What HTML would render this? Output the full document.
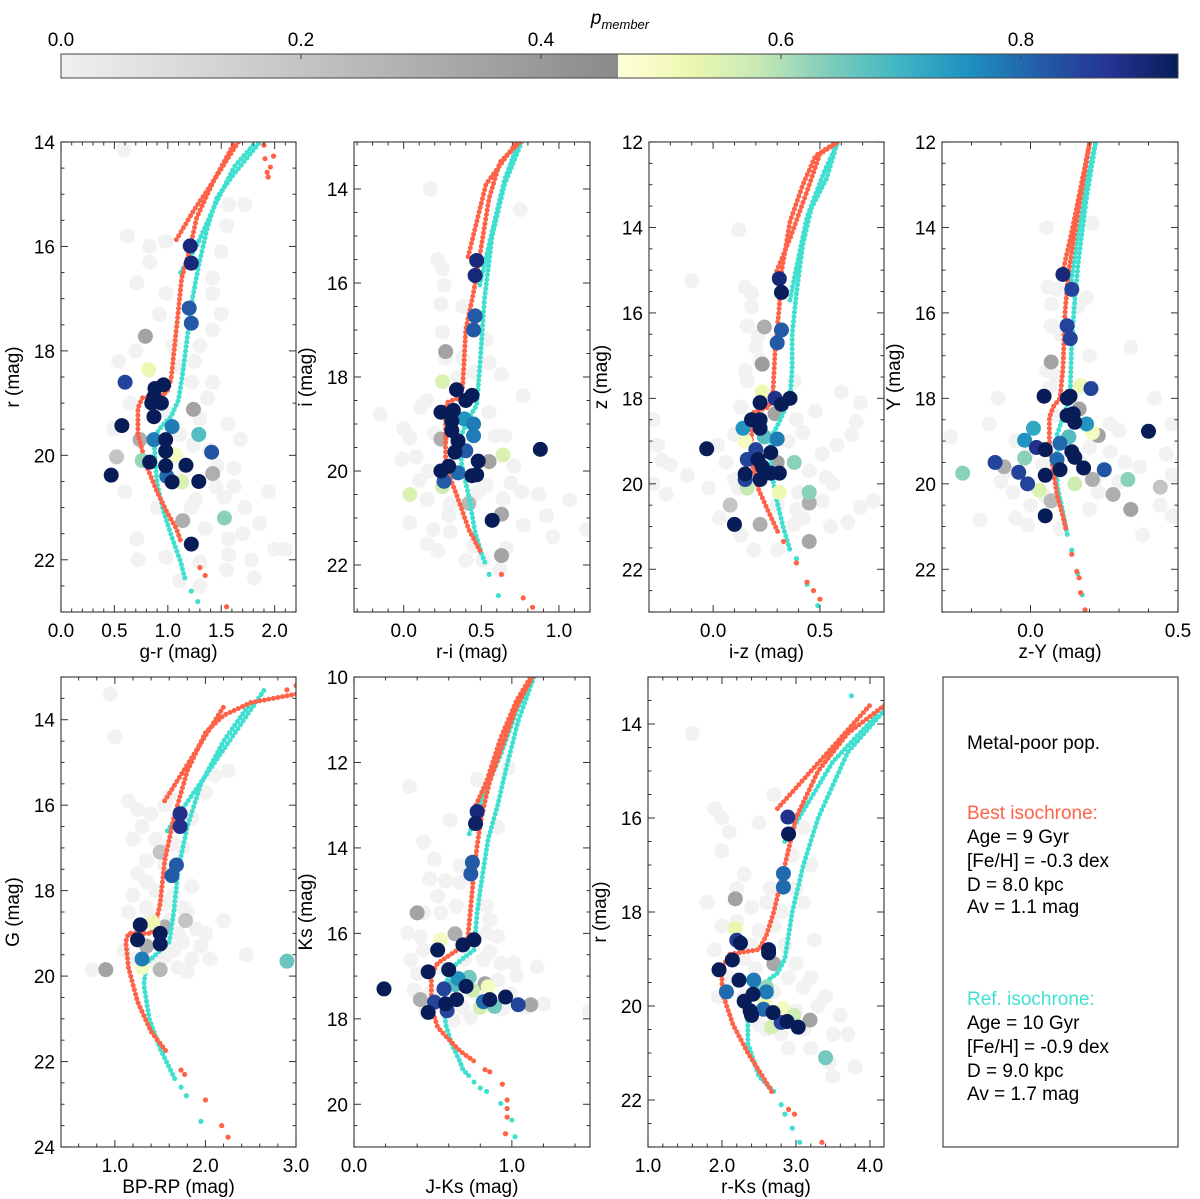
<!DOCTYPE html>
<html><head><meta charset="utf-8"><style>
html,body{margin:0;padding:0;background:#fff;}
svg{display:block;font-family:"Liberation Sans","DejaVu Sans",sans-serif;}
</style></head><body>
<svg id="fig" width="1200" height="1199" viewBox="0 0 1200 1199" xmlns="http://www.w3.org/2000/svg">
<defs>
<linearGradient id="gGray" x1="0" x2="1" y1="0" y2="0"><stop offset="0" stop-color="#f0f0f0"/><stop offset="1" stop-color="#8a8a8a"/></linearGradient>
<linearGradient id="gYl" x1="0" x2="1" y1="0" y2="0">
<stop offset="0" stop-color="#ffffd9"/><stop offset="0.125" stop-color="#edf8b1"/><stop offset="0.25" stop-color="#c7e9b4"/><stop offset="0.375" stop-color="#7fcdbb"/><stop offset="0.5" stop-color="#41b6c4"/><stop offset="0.625" stop-color="#1d91c0"/><stop offset="0.75" stop-color="#225ea8"/><stop offset="0.875" stop-color="#253494"/><stop offset="1" stop-color="#081d58"/></linearGradient>
</defs>
<g id="cbar">
<rect x="61" y="54" width="557" height="24" fill="url(#gGray)"/>
<rect x="618" y="54" width="560" height="24" fill="url(#gYl)"/>
<rect x="61" y="54" width="1117" height="24" fill="none" stroke="#444" stroke-width="1"/>
<text x="620" y="24" font-size="19" text-anchor="middle" font-style="italic">p<tspan font-size="13" dy="5">member</tspan></text>
</g>
<g id="panels"></g>
<g id="textbox">
<rect x="943" y="677" width="235" height="470" fill="none" stroke="#444" stroke-width="1.2"/>
<text x="967" y="749" font-size="19">Metal-poor pop.</text>
<text x="967" y="819" font-size="19" fill="#ff6347">Best isochrone:</text>
<text x="967" y="843" font-size="19">Age = 9 Gyr</text>
<text x="967" y="867" font-size="19">[Fe/H] = -0.3 dex</text>
<text x="967" y="891" font-size="19">D = 8.0 kpc</text>
<text x="967" y="913" font-size="19">Av = 1.1 mag</text>
<text x="967" y="1005" font-size="19" fill="#40e0d0">Ref. isochrone:</text>
<text x="967" y="1029" font-size="19">Age = 10 Gyr</text>
<text x="967" y="1053" font-size="19">[Fe/H] = -0.9 dex</text>
<text x="967" y="1077" font-size="19">D = 9.0 kpc</text>
<text x="967" y="1100" font-size="19">Av = 1.7 mag</text>
</g>
</svg>
<script>
const cbarTicks = [0.0, 0.2, 0.4, 0.6, 0.8];
// ---- Panel 1 (g-r, r)
const p1BestMain = [[1.66,14.0],[1.43,14.74],[1.27,15.45],[1.2,16.1],[1.13,16.6],[1.09,17.4],[1.06,17.97],[1.03,18.55],[0.99,18.8],[0.9,18.88],[0.76,18.9],[0.72,19.1],[0.72,19.6],[0.8,20.2],[0.9,20.7],[0.99,21.08],[1.08,21.4],[1.13,21.7]];
const p1BestUpper = [[1.08,15.87],[1.24,15.32],[1.43,14.74],[1.62,14.03]];
const p1BestTail = [[1.9,14.06],[1.91,14.32],[1.96,14.48],[1.93,14.58],[1.99,14.27],[1.94,14.67],[1.3,22.15],[1.35,22.3],[1.55,22.9]];
const p1RefMain = [[1.85,14.03],[1.62,14.61],[1.46,15.06],[1.37,15.64],[1.29,16.36],[1.23,17.0],[1.18,17.78],[1.14,18.42],[1.1,18.94],[1.03,19.26],[0.94,19.45],[0.87,19.65],[0.88,20.03],[0.9,20.55],[0.96,21.07],[1.03,21.52],[1.12,22.04],[1.16,22.36]];
const p1RefUpper = [[1.12,16.5],[1.27,15.99],[1.43,15.26],[1.62,14.48],[1.8,14.06]];
const p1RefTail = [[1.22,22.6],[1.28,22.8]];
const p1Bg = [[0.59,14.15],[0.62,15.8],[0.83,16.0],[0.98,15.9],[0.83,16.3],[0.71,16.7],[0.98,16.9],[0.92,17.3],[1.42,16.9],[1.57,15.2],[1.72,15.2],[1.55,15.6],[1.5,16.1],[1.42,16.6],[1.42,17.6],[1.3,17.9],[1.05,17.9],[0.7,18.0],[0.54,18.2],[1.11,18.3],[1.42,18.6],[1.22,18.6],[1.37,18.9],[1.56,19.4],[1.68,19.7],[1.11,19.6],[1.39,19.9],[1.46,20.2],[1.62,20.6],[1.53,20.8],[1.72,21.0],[1.94,20.7],[1.86,21.3],[1.26,20.85],[0.9,21.0],[0.71,21.6],[0.72,22.0],[0.98,21.95],[1.3,22.05],[1.57,21.9],[1.57,21.6],[1.78,22.0],[2.0,21.8],[2.1,21.8],[1.11,22.4],[1.81,22.35],[1.55,22.2],[1.3,22.5],[0.5,19.5],[0.6,20.7],[1.22,21.0],[1.62,20.25],[1.24,19.8],[1.15,20.3],[1.25,18.2],[1.3,19.3],[1.45,20.6],[1.35,21.4],[1.0,19.2],[0.65,19.0],[1.5,17.3],[1.2,17.2],[1.7,21.5]];
const p1Stars = [[1.21,15.99,0.9],[1.22,16.32,0.9],[1.2,17.18,0.82],[1.22,17.47,0.82],[0.79,17.72,0.35],[0.82,18.36,0.52],[0.6,18.6,0.85],[0.88,18.72,0.95],[0.96,18.65,0.95],[0.87,18.88,0.95],[0.94,19.0,0.95],[0.85,19.0,0.95],[0.87,19.26,0.95],[1.24,19.12,0.35],[0.57,19.43,0.95],[1.04,19.45,0.78],[1.29,19.6,0.68],[0.87,19.7,0.78],[0.98,19.7,0.95],[0.98,19.92,0.95],[1.07,19.99,0.5],[1.41,19.94,0.83],[0.74,19.7,0.3],[0.52,20.03,0.2],[0.76,20.1,0.62],[0.83,20.13,0.95],[0.98,20.2,0.95],[1.17,20.19,0.95],[0.47,20.38,0.95],[0.99,20.4,0.8],[1.04,20.51,0.95],[1.29,20.5,0.95],[1.13,20.51,0.55],[1.42,20.35,0.3],[1.14,21.25,0.3],[1.53,21.2,0.63],[1.22,21.7,0.95]];
// ---- Panel 2 (r-i, i)
const p2BestMain = [[0.75,13.0],[0.62,13.43],[0.55,14.2],[0.48,15.62],[0.45,16.2],[0.4,16.99],[0.38,18.2],[0.36,18.44],[0.28,18.54],[0.27,18.8],[0.27,19.9],[0.34,20.5],[0.42,21.25],[0.5,21.75]];
const p2BestUpper = [[0.415,15.44],[0.53,13.9],[0.73,13.0]];
const p2BestTail = [[0.63,22.2],[0.77,22.7],[0.83,22.9]];
const p2RefMain = [[0.76,13.0],[0.65,13.9],[0.57,15.0],[0.52,16.35],[0.49,17.8],[0.47,18.6],[0.415,18.9],[0.37,19.25],[0.37,19.8],[0.42,20.55],[0.46,21.3],[0.5,21.75],[0.53,22.0]];
const p2RefUpper = [[0.49,16.04],[0.57,14.9],[0.65,13.8],[0.74,13.0]];
const p2RefTail = [[0.55,22.2],[0.61,22.65]];
const p2Bg = [[0.17,14.0],[0.75,14.44],[0.22,15.5],[0.25,15.7],[0.26,16.05],[0.24,16.45],[0.38,16.5],[0.25,17.05],[0.53,17.2],[0.27,17.6],[0.38,17.6],[0.55,17.7],[0.63,17.95],[0.77,18.4],[0.15,18.5],[0.11,18.65],[-0.15,18.8],[0.0,19.1],[0.04,19.3],[-0.01,19.75],[0.08,19.7],[0.16,20.0],[0.55,18.75],[0.59,19.25],[0.65,19.25],[0.71,19.9],[0.69,20.25],[0.53,20.3],[0.64,20.6],[0.76,20.45],[0.87,20.5],[1.07,20.62],[0.15,20.6],[0.29,20.95],[0.04,21.1],[0.19,21.25],[0.3,21.3],[0.15,21.55],[0.22,21.7],[0.45,21.6],[0.66,21.65],[0.77,21.15],[0.92,20.95],[0.96,21.4],[1.18,21.25],[0.51,21.9],[0.62,22.1],[0.46,20.5],[0.49,20.4],[0.2,19.2],[0.35,18.0],[0.45,17.9],[0.3,20.7],[0.1,20.2],[0.4,21.9]];
const p2Stars = [[0.47,15.52,0.9],[0.46,15.84,0.9],[0.46,16.7,0.82],[0.45,17.0,0.82],[0.27,17.46,0.35],[0.25,18.1,0.55],[0.34,18.27,0.95],[0.44,18.39,0.95],[0.4,18.5,0.95],[0.24,18.75,0.95],[0.32,18.71,0.95],[0.31,18.94,0.95],[0.31,19.14,0.95],[0.39,18.89,0.75],[0.45,19.0,0.78],[0.45,19.25,0.78],[0.24,19.32,0.3],[0.35,19.36,0.95],[0.33,19.6,0.95],[0.4,19.57,0.82],[0.48,19.79,0.95],[0.55,19.8,0.35],[0.64,19.66,0.55],[0.88,19.54,0.95],[0.24,20.0,0.95],[0.29,19.9,0.95],[0.26,20.22,0.82],[0.35,20.04,0.8],[0.47,20.08,0.95],[0.44,20.1,0.95],[0.25,20.33,0.57],[0.04,20.5,0.55],[0.42,20.69,0.25],[0.57,21.05,0.95],[0.63,20.92,0.33],[0.63,21.8,0.35]];
// ---- Panel 3 (i-z, z)
const p3BestMain = [[0.58,12.0],[0.48,12.32],[0.42,13.0],[0.36,13.86],[0.32,15.05],[0.31,15.85],[0.29,16.9],[0.28,17.9],[0.26,18.2],[0.19,18.33],[0.18,18.85],[0.18,19.47],[0.21,20.1],[0.26,20.66],[0.31,21.2]];
const p3BestUpper = [[0.29,15.12],[0.36,14.26],[0.44,13.15],[0.5,12.28],[0.57,12.05]];
const p3BestTail = [[0.33,21.35],[0.39,21.85],[0.44,22.3],[0.47,22.5],[0.5,22.7]];
const p3RefMain = [[0.58,12.05],[0.53,12.87],[0.46,13.55],[0.42,14.4],[0.39,15.55],[0.37,16.5],[0.37,17.3],[0.36,18.0],[0.31,18.55],[0.27,18.93],[0.27,19.65],[0.3,20.43],[0.33,21.05],[0.36,21.55]];
const p3RefUpper = [[0.36,15.7],[0.39,14.94],[0.44,13.75],[0.52,12.7],[0.58,12.05]];
const p3RefTail = [[0.39,21.75],[0.44,22.35],[0.49,22.85]];
const p3Bg = [[0.12,14.05],[-0.1,15.25],[0.15,15.4],[0.18,15.55],[0.18,15.85],[0.16,16.3],[0.21,16.55],[0.2,16.8],[0.15,17.35],[0.16,17.6],[0.38,17.6],[0.6,17.85],[0.69,18.1],[0.48,18.3],[0.67,18.55],[0.39,18.5],[-0.28,18.5],[-0.26,19.1],[-0.24,19.45],[-0.2,19.55],[-0.12,19.8],[-0.28,20.0],[-0.22,20.25],[-0.02,20.1],[0.02,19.1],[0.06,19.5],[0.1,18.85],[0.42,18.8],[0.51,19.3],[0.58,19.1],[0.65,18.85],[0.53,19.85],[0.56,20.0],[0.51,20.4],[0.69,20.55],[0.75,20.4],[0.63,20.9],[0.55,21.0],[0.42,20.8],[0.39,20.6],[0.03,20.8],[0.13,21.2],[0.19,21.55],[0.3,21.55],[0.38,20.95],[0.12,20.1],[0.3,20.5],[0.1,19.9],[0.35,19.0],[0.4,20.2],[0.22,17.1],[0.13,18.2],[0.45,19.7]];
const p3Stars = [[0.31,15.2,0.9],[0.32,15.52,0.93],[0.32,16.4,0.82],[0.3,16.7,0.82],[0.24,16.33,0.3],[0.23,17.2,0.38],[0.23,17.85,0.52],[0.22,18.1,0.95],[0.29,18.0,0.88],[0.32,18.14,0.95],[0.36,18.0,0.95],[0.29,18.36,0.35],[0.18,18.5,0.95],[0.22,18.5,0.95],[0.22,18.7,0.95],[0.14,18.7,0.75],[0.24,18.9,0.68],[0.3,18.95,0.78],[0.15,19.0,0.5],[-0.03,19.18,0.95],[0.2,19.2,0.85],[0.27,19.27,0.95],[0.16,19.43,0.85],[0.21,19.43,0.95],[0.3,19.5,0.35],[0.38,19.5,0.63],[0.23,19.6,0.95],[0.27,19.75,0.95],[0.15,19.77,0.95],[0.15,19.9,0.85],[0.31,19.75,0.95],[0.22,19.9,0.93],[0.16,20.1,0.58],[0.31,20.2,0.52],[0.45,20.2,0.63],[0.45,20.45,0.3],[0.08,20.5,0.2],[0.1,20.95,0.95],[0.22,20.95,0.3],[0.45,21.35,0.33]];
// ---- Panel 4 (z-Y, Y)
const p4BestMain = [[0.2,12.04],[0.16,13.7],[0.128,15.1],[0.117,16.0],[0.11,17.3],[0.1,18.0],[0.077,18.2],[0.064,18.45],[0.064,19.0],[0.075,19.6],[0.09,20.26],[0.106,20.66],[0.12,21.05]];
const p4BestUpper = [[0.109,15.05],[0.14,14.1],[0.17,13.07],[0.2,12.04]];
const p4BestTail = [[0.14,21.65],[0.157,22.05],[0.165,22.2],[0.17,22.55],[0.185,22.95]];
const p4RefMain = [[0.22,12.04],[0.19,13.3],[0.163,14.75],[0.15,15.7],[0.14,16.65],[0.135,17.7],[0.135,18.0],[0.11,18.45],[0.09,18.85],[0.09,19.3],[0.09,20.03],[0.11,20.66],[0.125,21.2]];
const p4RefUpper = [[0.134,15.45],[0.163,14.1],[0.19,12.9],[0.22,12.04]];
const p4RefTail = [[0.14,21.55],[0.16,22.1],[0.175,22.6]];
const p4Bg = [[0.055,14.0],[0.21,13.9],[0.06,15.4],[0.09,15.45],[0.19,15.65],[0.07,15.8],[0.16,15.85],[0.07,16.3],[0.1,16.5],[0.34,16.8],[0.2,17.0],[0.055,17.35],[0.09,17.5],[0.065,17.75],[0.08,18.4],[-0.11,18.0],[-0.14,18.6],[-0.27,18.9],[-0.05,19.0],[-0.01,19.3],[0.04,19.55],[-0.1,19.95],[-0.06,20.2],[0.0,20.5],[-0.17,20.85],[-0.05,20.8],[-0.01,20.97],[0.1,21.05],[0.23,20.2],[0.27,19.25],[0.32,19.5],[0.3,19.95],[0.37,19.6],[0.3,18.75],[0.27,18.6],[0.42,18.0],[0.48,18.6],[0.46,19.3],[0.48,19.8],[0.44,20.5],[0.48,20.75],[0.38,21.2],[0.22,19.9],[0.2,19.15],[0.17,19.5],[-0.08,19.7],[0.05,20.3],[0.2,20.6],[0.15,17.8]];
const p4Stars = [[0.11,15.1,0.9],[0.14,15.45,0.85],[0.124,16.3,0.85],[0.135,16.6,0.85],[0.07,17.15,0.35],[0.17,17.7,0.52],[0.205,17.77,0.85],[0.046,17.95,0.95],[0.125,18.0,0.95],[0.134,17.95,0.95],[0.165,18.25,0.35],[0.124,18.4,0.95],[0.145,18.36,0.95],[0.15,18.56,0.95],[0.19,18.6,0.75],[0.01,18.7,0.72],[0.21,18.8,0.5],[0.23,18.87,0.35],[0.13,18.9,0.68],[0.4,18.77,0.95],[-0.02,18.98,0.75],[0.1,19.05,0.8],[0.02,19.15,0.88],[0.05,19.2,0.95],[0.14,19.25,0.95],[0.15,19.38,0.95],[-0.02,19.4,0.63],[-0.12,19.5,0.85],[-0.09,19.6,0.3],[0.09,19.43,0.8],[0.1,19.67,0.95],[0.18,19.63,0.95],[0.25,19.67,0.83],[-0.04,19.73,0.85],[0.05,19.8,0.95],[-0.23,19.75,0.63],[-0.01,20.0,0.85],[0.15,20.0,0.57],[0.21,19.9,0.3],[0.33,19.9,0.63],[0.03,20.15,0.55],[0.07,20.4,0.25],[0.28,20.25,0.3],[0.34,20.6,0.35],[0.44,20.08,0.2],[0.05,20.75,0.95]];
// ---- Panel 5 (BP-RP, G)
const p5BestMain = [[3.0,13.4],[2.5,13.6],[2.2,13.9],[2.0,14.3],[1.8,15.2],[1.65,16.3],[1.55,17.3],[1.5,18.3],[1.45,18.8],[1.4,19.0],[1.15,19.0],[1.12,19.2],[1.15,19.8],[1.25,20.6],[1.4,21.3],[1.58,21.8]];
const p5BestUpper = [[1.55,15.9],[2.2,13.7]];
const p5BestTail = [[1.73,22.2],[1.77,22.3],[2.0,22.9],[2.18,23.5],[2.25,23.77],[2.9,13.3],[3.0,13.2]];
const p5RefMain = [[2.5,13.6],[2.2,14.5],[1.95,15.5],[1.8,16.5],[1.7,17.5],[1.65,18.5],[1.6,19.2],[1.45,19.5],[1.35,19.7],[1.32,20.2],[1.38,21],[1.5,21.7],[1.66,22.4]];
const p5RefUpper = [[1.58,16.6],[2.2,14.7],[2.65,13.3]];
const p5RefTail = [[1.73,22.6],[1.79,22.8],[1.95,23.4]];
const p5Bg = [[0.95,13.4],[1.0,14.4],[2.25,15.2],[2.1,15.3],[2.0,15.7],[1.6,15.8],[1.15,15.9],[1.25,16.1],[1.3,16.5],[1.85,16.3],[1.75,17.0],[1.2,16.8],[1.35,17.3],[1.55,17.4],[1.35,17.8],[1.45,18.0],[1.2,18.1],[1.65,18.1],[1.8,18.5],[1.35,18.4],[2.2,18.7],[1.7,19.0],[1.1,19.4],[1.6,19.3],[1.85,19.6],[2.05,19.6],[2.45,19.5],[0.75,19.85],[1.7,19.8],[1.8,19.9],[1.55,19.55],[1.4,16.2],[1.55,16.0],[1.45,16.8],[1.65,16.9],[1.25,17.6],[1.55,18.3],[1.4,18.6],[1.75,18.4],[1.9,18.9],[1.6,18.7],[1.25,19.0],[1.45,19.7],[1.65,19.4],[1.2,19.6],[1.95,19.3],[1.75,19.2],[2.0,19.0],[1.15,18.5],[1.55,17.0],[1.85,17.9]];
const p5Stars = [[1.28,18.8,0.95],[1.25,19.15,0.95],[1.5,19.0,0.95],[1.5,19.25,0.95],[1.72,16.2,0.88],[1.72,16.5,0.88],[1.68,17.4,0.82],[1.63,17.65,0.82],[1.3,19.6,0.78],[2.9,19.65,0.66],[1.42,18.75,0.52],[1.3,19.8,0.5],[0.9,19.85,0.35],[1.35,19.3,0.3],[1.5,19.85,0.25],[1.55,18.85,0.3],[1.78,18.7,0.2],[1.5,17.1,0.2]];
// ---- Panel 6 (J-Ks, Ks)
const p6BestMain = [[1.13,10],[1.03,10.7],[0.95,11.5],[0.86,12.44],[0.81,13.23],[0.78,13.94],[0.76,14.57],[0.74,15.36],[0.72,16.15],[0.69,16.3],[0.61,16.5],[0.53,16.7],[0.49,16.94],[0.49,17.73],[0.53,18.2],[0.59,18.44],[0.67,18.75],[0.76,18.99]];
const p6BestUpper = [[0.75,13.19],[0.84,12.44],[0.93,11.42],[1.03,10.55],[1.12,10.0]];
const p6BestTail = [[0.83,19.19],[0.86,19.24],[0.94,19.53],[0.97,19.9],[0.97,20.1],[0.97,20.3],[0.96,20.69]];
const p6RefMain = [[1.14,10],[1.04,11.03],[0.97,12.05],[0.91,13.0],[0.85,13.79],[0.81,14.73],[0.78,15.52],[0.76,16.39],[0.69,16.59],[0.63,16.78],[0.59,17.1],[0.57,17.57],[0.58,18.12],[0.62,18.6],[0.67,18.99],[0.69,19.19],[0.74,19.38]];
const p6RefUpper = [[0.73,13.67],[0.82,12.76],[0.93,11.81],[1.03,10.79],[1.13,10.0]];
const p6RefTail = [[0.76,19.48],[0.8,19.62],[0.84,19.7],[0.93,19.98],[1.0,20.37],[1.02,20.76]];
const p6Bg = [[0.35,12.56],[0.78,12.4],[0.98,12.13],[0.61,13.35],[0.91,13.51],[0.44,13.86],[0.51,14.26],[0.67,14.42],[0.48,14.73],[0.58,14.77],[0.67,14.81],[0.53,15.13],[0.44,15.52],[0.55,15.52],[0.65,15.36],[0.84,15.36],[0.86,15.68],[0.34,15.99],[0.42,16.07],[0.84,15.99],[0.91,16.07],[0.44,16.39],[0.86,16.43],[0.36,16.62],[0.82,16.62],[0.93,16.7],[1.01,16.7],[0.4,16.94],[0.91,17.1],[1.03,16.98],[1.16,16.78],[0.38,17.33],[0.48,17.41],[0.99,17.41],[1.2,17.65],[0.69,17.73],[0.63,18.04],[0.74,17.97],[1.49,17.81],[1.09,17.73],[0.94,17.77],[0.55,16.8],[0.7,16.6],[0.6,17.9],[0.8,17.5],[0.45,17.8]];
const p6Stars = [[0.78,13.15,0.9],[0.77,13.43,0.92],[0.75,14.34,0.82],[0.74,14.61,0.82],[0.4,15.52,0.35],[0.64,16.01,0.3],[0.55,16.15,0.5],[0.76,16.15,0.95],[0.69,16.27,0.95],[0.53,16.39,0.95],[0.47,16.9,0.95],[0.6,16.85,0.95],[0.66,17.06,0.75],[0.73,17.03,0.65],[0.64,17.2,0.68],[0.71,17.24,0.95],[0.83,17.18,0.35],[0.85,17.25,0.5],[0.75,17.33,0.57],[0.57,17.3,0.85],[0.19,17.3,0.95],[0.42,17.55,0.3],[0.65,17.55,0.95],[0.86,17.55,0.95],[0.82,17.6,0.8],[0.96,17.49,0.95],[0.89,17.71,0.65],[0.8,17.73,0.56],[1.04,17.67,0.85],[1.12,17.67,0.33],[0.51,17.61,0.85],[0.58,17.65,0.95],[0.59,17.81,0.85],[0.47,17.85,0.95]];
// ---- Panel 7 (r-Ks, r)
const p7BestMain = [[4.2,13.6],[3.7,14.2],[3.3,15],[3.0,16],[2.85,17],[2.7,18],[2.6,18.5],[2.5,18.8],[2.1,18.9],[2.0,19.2],[2.0,19.7],[2.15,20.4],[2.35,21],[2.55,21.5],[2.7,21.9]];
const p7BestUpper = [[2.75,15.8],[4.0,13.6]];
const p7BestTail = [[2.9,22.2],[2.98,22.3],[3.35,22.9]];
const p7RefMain = [[4.2,13.7],[3.7,14.6],[3.3,16],[3.1,17],[2.95,18],[2.85,19],[2.75,19.3],[2.5,19.6],[2.35,20],[2.35,20.8],[2.5,21.5],[2.72,21.85]];
const p7RefUpper = [[2.85,16.5],[3.5,14.8],[4.1,13.8]];
const p7RefTail = [[3.75,13.4],[2.8,22.1],[2.85,22.3],[2.95,22.6],[3.05,22.9]];
const p7Bg = [[1.6,14.2],[2.7,15.5],[1.9,15.8],[2.0,16.0],[2.1,16.3],[2.5,16.1],[3.1,16.2],[2.0,16.7],[3.2,17.0],[2.3,17.2],[2.65,17.5],[1.8,17.8],[3.1,17.8],[2.0,18.3],[2.5,18.4],[2.85,18.7],[3.25,18.6],[1.9,18.8],[2.3,19.0],[3.0,19.1],[3.2,19.4],[1.95,19.8],[2.7,19.7],[3.4,19.8],[3.0,20.1],[3.5,20.6],[2.6,20.5],[3.2,20.9],[3.7,20.6],[3.8,21.3],[2.9,20.9],[3.45,21.2],[2.2,17.5],[2.4,17.9],[2.6,17.8],[2.8,18.0],[2.2,18.2],[2.4,18.7],[2.7,18.3],[2.9,19.4],[3.1,19.6],[2.1,19.4],[2.3,19.8],[2.5,20.4],[2.8,20.6],[3.1,20.5],[3.3,20.0],[3.5,21.5],[2.95,16.8],[3.0,17.5],[2.45,19.2],[3.6,20.2]];
const p7Stars = [[2.89,15.98,0.88],[2.9,16.34,0.95],[2.83,17.18,0.8],[2.83,17.47,0.8],[2.18,17.72,0.35],[2.18,18.35,0.53],[2.2,18.6,0.87],[2.25,18.66,0.95],[2.63,18.8,0.95],[2.63,18.87,0.95],[2.14,19.02,0.95],[1.96,19.23,0.95],[2.7,19.1,0.33],[2.23,19.45,0.95],[2.43,19.45,0.78],[2.06,19.7,0.8],[2.42,19.75,0.93],[2.6,19.6,0.62],[2.6,19.7,0.78],[2.3,19.9,0.95],[2.38,20.1,0.95],[2.4,20.2,0.95],[2.56,20.07,0.8],[2.69,20.14,0.95],[2.58,19.95,0.52],[2.82,20.05,0.5],[2.97,20.2,0.57],[2.8,20.35,0.85],[2.88,20.33,0.95],[3.03,20.45,0.95],[3.19,20.3,0.35],[3.4,21.1,0.65],[2.67,20.45,0.56]];

const panels = [
 {name:'gr',x0:61,y0:142,w:235,h:470,xmin:0.0,xmax:2.2,ymin:14,ymax:23,xt:[0,0.5,1.0,1.5,2.0],xm:0.1,yt:[14,16,18,20,22],xl:'g-r (mag)',yl:'r (mag)',bm:p1BestMain,bu:p1BestUpper,bt:p1BestTail,rm:p1RefMain,ru:p1RefUpper,rt:p1RefTail,bg:p1Bg,st:p1Stars},
 {name:'ri',x0:354,y0:142,w:236,h:470,xmin:-0.32,xmax:1.2,ymin:13,ymax:23,xt:[0,0.5,1.0],xm:0.1,yt:[14,16,18,20,22],xl:'r-i (mag)',yl:'i (mag)',bm:p2BestMain,bu:p2BestUpper,bt:p2BestTail,rm:p2RefMain,ru:p2RefUpper,rt:p2RefTail,bg:p2Bg,st:p2Stars},
 {name:'iz',x0:649,y0:142,w:235,h:470,xmin:-0.30,xmax:0.80,ymin:12,ymax:23,xt:[0,0.5],xm:0.1,yt:[12,14,16,18,20,22],xl:'i-z (mag)',yl:'z (mag)',bm:p3BestMain,bu:p3BestUpper,bt:p3BestTail,rm:p3RefMain,ru:p3RefUpper,rt:p3RefTail,bg:p3Bg,st:p3Stars},
 {name:'zy',x0:942,y0:142,w:236,h:470,xmin:-0.30,xmax:0.5,ymin:12,ymax:23,xt:[0,0.5],xm:0.1,yt:[12,14,16,18,20,22],xl:'z-Y (mag)',yl:'Y (mag)',bm:p4BestMain,bu:p4BestUpper,bt:p4BestTail,rm:p4RefMain,ru:p4RefUpper,rt:p4RefTail,bg:p4Bg,st:p4Stars},
 {name:'bprp',x0:61,y0:677,w:235,h:470,xmin:0.405,xmax:3.0,ymin:13,ymax:24,xt:[1.0,2.0,3.0],xm:0.2,yt:[14,16,18,20,22,24],xl:'BP-RP (mag)',yl:'G (mag)',bm:p5BestMain,bu:p5BestUpper,bt:p5BestTail,rm:p5RefMain,ru:p5RefUpper,rt:p5RefTail,bg:p5Bg,st:p5Stars},
 {name:'jk',x0:354,y0:677,w:236,h:470,xmin:0.0,xmax:1.495,ymin:10,ymax:21,xt:[0,1.0],xm:0.2,yt:[10,12,14,16,18,20],xl:'J-Ks (mag)',yl:'Ks (mag)',bm:p6BestMain,bu:p6BestUpper,bt:p6BestTail,rm:p6RefMain,ru:p6RefUpper,rt:p6RefTail,bg:p6Bg,st:p6Stars},
 {name:'rk',x0:648,y0:677,w:236,h:470,xmin:1.0,xmax:4.19,ymin:13,ymax:23,xt:[1.0,2.0,3.0,4.0],xm:0.2,yt:[14,16,18,20,22],xl:'r-Ks (mag)',yl:'r (mag)',bm:p7BestMain,bu:p7BestUpper,bt:p7BestTail,rm:p7RefMain,ru:p7RefUpper,rt:p7RefTail,bg:p7Bg,st:p7Stars}
];

const NS='http://www.w3.org/2000/svg';
const fig=document.getElementById('fig');
const root=document.getElementById('panels');
function mk(tag,attrs,parent){const e=document.createElementNS(NS,tag);for(const k in attrs)e.setAttribute(k,attrs[k]);parent.appendChild(e);return e;}
const grayStops=[[240,240,240],[138,138,138]];
const ylStops=['#ffffd9','#edf8b1','#c7e9b4','#7fcdbb','#41b6c4','#1d91c0','#225ea8','#253494','#081d58'].map(h=>[parseInt(h.slice(1,3),16),parseInt(h.slice(3,5),16),parseInt(h.slice(5,7),16)]);
function pcolor(p){
 const split=0.464,top=0.931;
 if(p<split){const t=p/split;const c=grayStops[0].map((v,i)=>Math.round(v+(grayStops[1][i]-v)*t));return `rgb(${c})`;}
 let t=Math.min(1,(p-split)/(top-split))*(ylStops.length-1);const i=Math.min(ylStops.length-2,Math.floor(t));const f=t-i;
 const c=ylStops[i].map((v,k)=>Math.round(v+(ylStops[i+1][k]-v)*f));return `rgb(${c})`;
}
cbarTicks.forEach(v=>{
 const x=61+v*1200;
 const t=mk('text',{x:x,y:46,'font-size':19,'text-anchor':'middle'},fig);t.textContent=v.toFixed(1);
 
 
 const l=mk('line',{x1:x,x2:x,y1:54,y2:59,stroke:'#444'},fig);
 
 
});

panels.forEach(P=>{
 const g=mk('g',{},root);
 
 
 const sx=v=>P.x0+(v-P.xmin)/(P.xmax-P.xmin)*P.w;
 const sy=v=>P.y0+(v-P.ymin)/(P.ymax-P.ymin)*P.h;
 const cid='clip-'+P.name;
 const cp=mk('clipPath',{id:cid},g);mk('rect',{x:P.x0,y:P.y0,width:P.w,height:P.h},cp);
 const plot=mk('g',{'clip-path':`url(#${cid})`},g);
 
 
 P.bg.forEach(d=>{
  const c=mk('circle',{cx:sx(d[0]),cy:sy(d[1]),r:7.5,fill:'#f2f2f2'},plot);
  
  
 });
 P.st.filter(d=>d[2]<0.464).forEach(d=>{
  const c=mk('circle',{cx:sx(d[0]),cy:sy(d[1]),r:7.5,fill:pcolor(d[2])},plot);
  
  
 });
 const line=(pts,col,nm)=>{
  const e=mk('polyline',{points:pts.map(p=>sx(p[0])+','+sy(p[1])).join(' '),fill:'none',stroke:col,'stroke-width':5,'stroke-linecap':'round','stroke-dasharray':'0 4.6'},plot);
  
  
 };
 const dots=(pts,col,nm)=>pts.forEach(d=>{
  const c=mk('circle',{cx:sx(d[0]),cy:sy(d[1]),r:2.6,fill:col},plot);
  
  
 });
 line(P.rm,'#40e0d0','ref-isochrone-main');
 line(P.ru,'#40e0d0','ref-isochrone-upper');
 dots(P.rt,'#40e0d0','ref-isochrone-point');
 line(P.bm,'#ff6347','best-isochrone-main');
 line(P.bu,'#ff6347','best-isochrone-upper');
 dots(P.bt,'#ff6347','best-isochrone-point');
 P.st.filter(d=>d[2]>=0.464).sort((a,b)=>a[2]-b[2]).forEach(d=>{
  const c=mk('circle',{cx:sx(d[0]),cy:sy(d[1]),r:7.5,fill:pcolor(d[2])},plot);
  
  
 });
 const fr=mk('rect',{x:P.x0,y:P.y0,width:P.w,height:P.h,fill:'none',stroke:'#444','stroke-width':1.2},g);
 
 
 const tk=mk('g',{stroke:'#333','stroke-width':1},g);
 
 
 for(let v=Math.ceil(P.xmin/P.xm-1e-6)*P.xm; v<=P.xmax+1e-9; v+=P.xm){
  const major=P.xt.some(t=>Math.abs(t-v)<1e-6);const L=major?7:3.5;const x=sx(v);
  mk('line',{x1:x,x2:x,y1:P.y0+P.h,y2:P.y0+P.h-L},tk);mk('line',{x1:x,x2:x,y1:P.y0,y2:P.y0+L},tk);
 }
 for(let v=Math.ceil(P.ymin/0.5-1e-6)*0.5; v<=P.ymax+1e-9; v+=0.5){
  const major=P.yt.some(t=>Math.abs(t-v)<1e-6);const L=major?7:3.5;const y=sy(v);
  mk('line',{x1:P.x0,x2:P.x0+L,y1:y,y2:y},tk);mk('line',{x1:P.x0+P.w,x2:P.x0+P.w-L,y1:y,y2:y},tk);
 }
 P.xt.forEach(v=>{const t=mk('text',{x:sx(v),y:P.y0+P.h+25,'font-size':19,'text-anchor':'middle'},g);t.textContent=v.toFixed(1);
  
  });
 P.yt.forEach(v=>{const t=mk('text',{x:P.x0-6,y:sy(v)+7,'font-size':19,'text-anchor':'end'},g);t.textContent=v;
  
  });
 const xl=mk('text',{x:P.x0+P.w/2,y:P.y0+P.h+46,'font-size':19,'text-anchor':'middle'},g);xl.textContent=P.xl;
 
 
 const yx=P.x0-42,yy=P.y0+P.h/2;
 const yl=mk('text',{x:yx,y:yy,'font-size':19,'text-anchor':'middle',transform:`rotate(-90 ${yx} ${yy})`},g);yl.textContent=P.yl;
 
 
});
</script>
</body></html>
